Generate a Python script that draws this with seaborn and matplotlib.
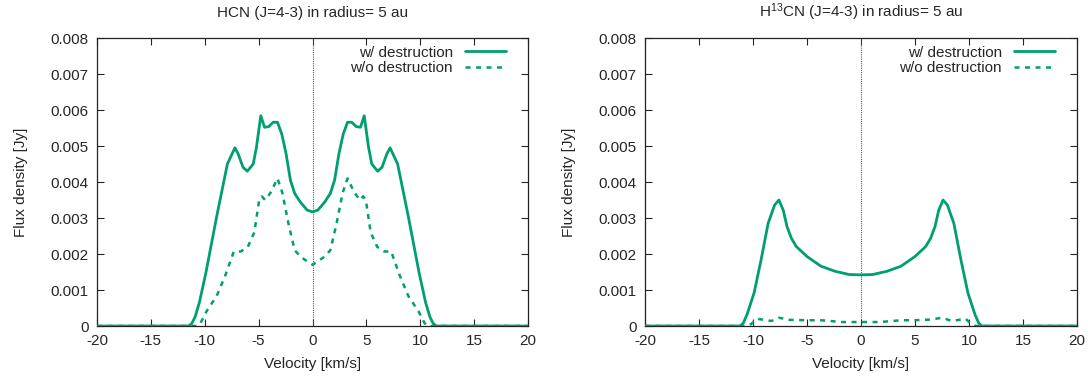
import numpy as np
import pandas as pd
import matplotlib
matplotlib.use("Agg")
import matplotlib.pyplot as plt
import seaborn as sns

# ---- data ----
# HCN, with destruction
hcn_w_v = [-20, -11.5, -11.2, -10.9, -10.5, -9.9, -8.9, -7.9, -7.2, -6.9, -6.45, -6.05, -5.5,
           -5.2, -4.8, -4.45, -4.05, -3.65, -3.25, -2.85, -2.45, -2.05, -1.65, -1.15, -0.5, 0,
           0.5, 1.15, 1.65, 2.05, 2.45, 2.85, 3.25, 3.65, 4.05, 4.45, 4.8, 5.2, 5.5,
           6.05, 6.45, 6.9, 7.2, 7.9, 8.9, 9.9, 10.5, 10.9, 11.2, 11.5, 20]
hcn_w_f = [0, 0, 0.00007, 0.00025, 0.00065, 0.00147, 0.00303, 0.0045, 0.00495, 0.00478,
           0.00441, 0.0043, 0.0045, 0.00497, 0.00584, 0.00552, 0.00554, 0.00566, 0.00566,
           0.00533, 0.00478, 0.00405, 0.00368, 0.00345, 0.00322, 0.00317,
           0.00322, 0.00345, 0.00368, 0.00405, 0.00478, 0.00533, 0.00566, 0.00566, 0.00554,
           0.00552, 0.00584, 0.00497, 0.0045, 0.0043, 0.00441, 0.00478, 0.00495, 0.0045,
           0.00303, 0.00147, 0.00065, 0.00025, 0.00007, 0, 0]
# HCN, without destruction
hcn_wo_v = [-20, -10.7, -10.4, -9.85, -8.9, -8.1, -7.3, -6.65, -6.0, -5.4, -4.95, -4.7, -4.4,
            -3.9, -3.25, -2.8, -2.2, -1.65, -1.0, 0,
            1.0, 1.65, 2.2, 2.8, 3.25, 3.9, 4.4, 4.7, 4.95, 5.4, 6.0, 6.65, 7.3, 8.1, 8.9,
            9.85, 10.4, 10.7, 20]
hcn_wo_f = [0, 0, 0.00008, 0.0004, 0.00083, 0.0014, 0.00207, 0.00207, 0.0022, 0.0026, 0.0035,
            0.0036, 0.0035, 0.0037, 0.0041, 0.0037, 0.0028, 0.0021, 0.0019, 0.0017,
            0.0019, 0.0021, 0.0028, 0.0037, 0.0041, 0.0037, 0.0035, 0.0036, 0.0035, 0.0026,
            0.0022, 0.00207, 0.00207, 0.0014, 0.00083, 0.0004, 0.00008, 0, 0]
# H13CN, with destruction
h13_w_v = [-20, -11.2, -10.9, -10.55, -9.9, -9.25, -8.6, -8.0, -7.6, -7.2, -6.85, -6.45, -6.0,
           -5.0, -3.7, -2.4, -1.1, 0, 1.1, 2.4, 3.7, 5.0, 6.0, 6.45, 6.85, 7.2, 7.6, 8.0,
           8.6, 9.25, 9.9, 10.55, 10.9, 11.2, 20]
h13_w_f = [0, 0, 0.00008, 0.00032, 0.00092, 0.00184, 0.00285, 0.00336, 0.0035, 0.00322,
           0.00276, 0.00244, 0.00221, 0.00193, 0.00166, 0.00152, 0.00143, 0.00142, 0.00143,
           0.00152, 0.00166, 0.00193, 0.00221, 0.00244, 0.00276, 0.00322, 0.0035, 0.00336,
           0.00285, 0.00184, 0.00092, 0.00032, 0.00008, 0, 0]
# H13CN, without destruction
h13_wo_v = [-20, -10.6, -10.2, -9.6, -8.3, -7.6, -6.6, -5.0, -3.7, -1.75, 0, 1.75, 3.7, 5.0,
            6.5, 7.5, 8.4, 9.7, 10.2, 10.6, 20]
h13_wo_f = [0, 0, 0.00005, 0.0002, 0.00014, 0.00023, 0.00017, 0.00016, 0.00016, 0.00011,
            0.00011, 0.00011, 0.00016, 0.00016, 0.00018, 0.00023, 0.00014, 0.0002, 0.00005, 0, 0]

titles = ["HCN (J=4-3) in radius= 5 au", "H$^{13}$CN (J=4-3) in radius= 5 au"]
labels = ["w/ destruction", "w/o destruction"]
xticks = [-20, -15, -10, -5, 0, 5, 10, 15, 20]
yticks = [0, 0.001, 0.002, 0.003, 0.004, 0.005, 0.006, 0.007, 0.008]

GREEN = "#009e73"
FS = 11

sns.set_style("ticks")
plt.rcParams["font.family"] = ["Liberation Sans", "DejaVu Sans"]
plt.rcParams["mathtext.default"] = "regular"
plt.rcParams["font.size"] = FS

fig = plt.figure(figsize=(10.88, 3.79), dpi=100)
ax1 = fig.add_axes([97 / 1088, 1 - 326 / 379, (528 - 97) / 1088, (326 - 38) / 379])
ax2 = fig.add_axes([645 / 1088, 1 - 326 / 379, (1077 - 645) / 1088, (326 - 38) / 379])

panels = [
    (ax1, hcn_w_v, hcn_w_f, hcn_wo_v, hcn_wo_f, titles[0]),
    (ax2, h13_w_v, h13_w_f, h13_wo_v, h13_wo_f, titles[1]),
]

for ax, wv, wf, wov, wof, title in panels:
    ax.axvline(0, color="#555555", lw=0.8, ls=(0, (1, 1)), zorder=1)
    df_w = pd.DataFrame({"v": wv, "f": wf})
    df_wo = pd.DataFrame({"v": wov, "f": wof})
    sns.lineplot(data=df_wo, x="v", y="f", ax=ax, color=GREEN, lw=1.8,
                 estimator=None, label=labels[1], zorder=2)
    sns.lineplot(data=df_w, x="v", y="f", ax=ax, color=GREEN, lw=2.0,
                 estimator=None, label=labels[0], zorder=3)
    ax.lines[-2].set_dashes((2, 2.2))
    ax.set_xlim(-20, 20)
    ax.set_ylim(0, 0.008)
    ax.set_xticks(xticks)
    ax.set_yticks(yticks)
    ax.set_xticklabels([f"{t:g}" for t in xticks])
    ax.set_yticklabels([f"{t:g}" for t in yticks])
    ax.tick_params(direction="in", top=True, right=True, length=5, width=0.8,
                   labelsize=FS, pad=6)
    for s in ax.spines.values():
        s.set_linewidth(0.9)
        s.set_color("#222222")
    ax.set_xlabel("Velocity [km/s]", fontsize=FS, labelpad=6)
    ax.set_ylabel("Flux density [Jy]", fontsize=FS, labelpad=16)
    ax.set_title(title, fontsize=FS, pad=15)
    h, l = ax.get_legend_handles_labels()
    order = [l.index(labels[0]), l.index(labels[1])]
    ax.legend([h[i] for i in order], [l[i] for i in order], loc="upper right",
              bbox_to_anchor=(1 - 14 / 431, 1.0),
              frameon=False, markerfirst=False, fontsize=FS, handlelength=2.7,
              labelspacing=0.1, borderaxespad=0.2, borderpad=0.3, handletextpad=0.8)

fig.savefig("out.png", dpi=100)
